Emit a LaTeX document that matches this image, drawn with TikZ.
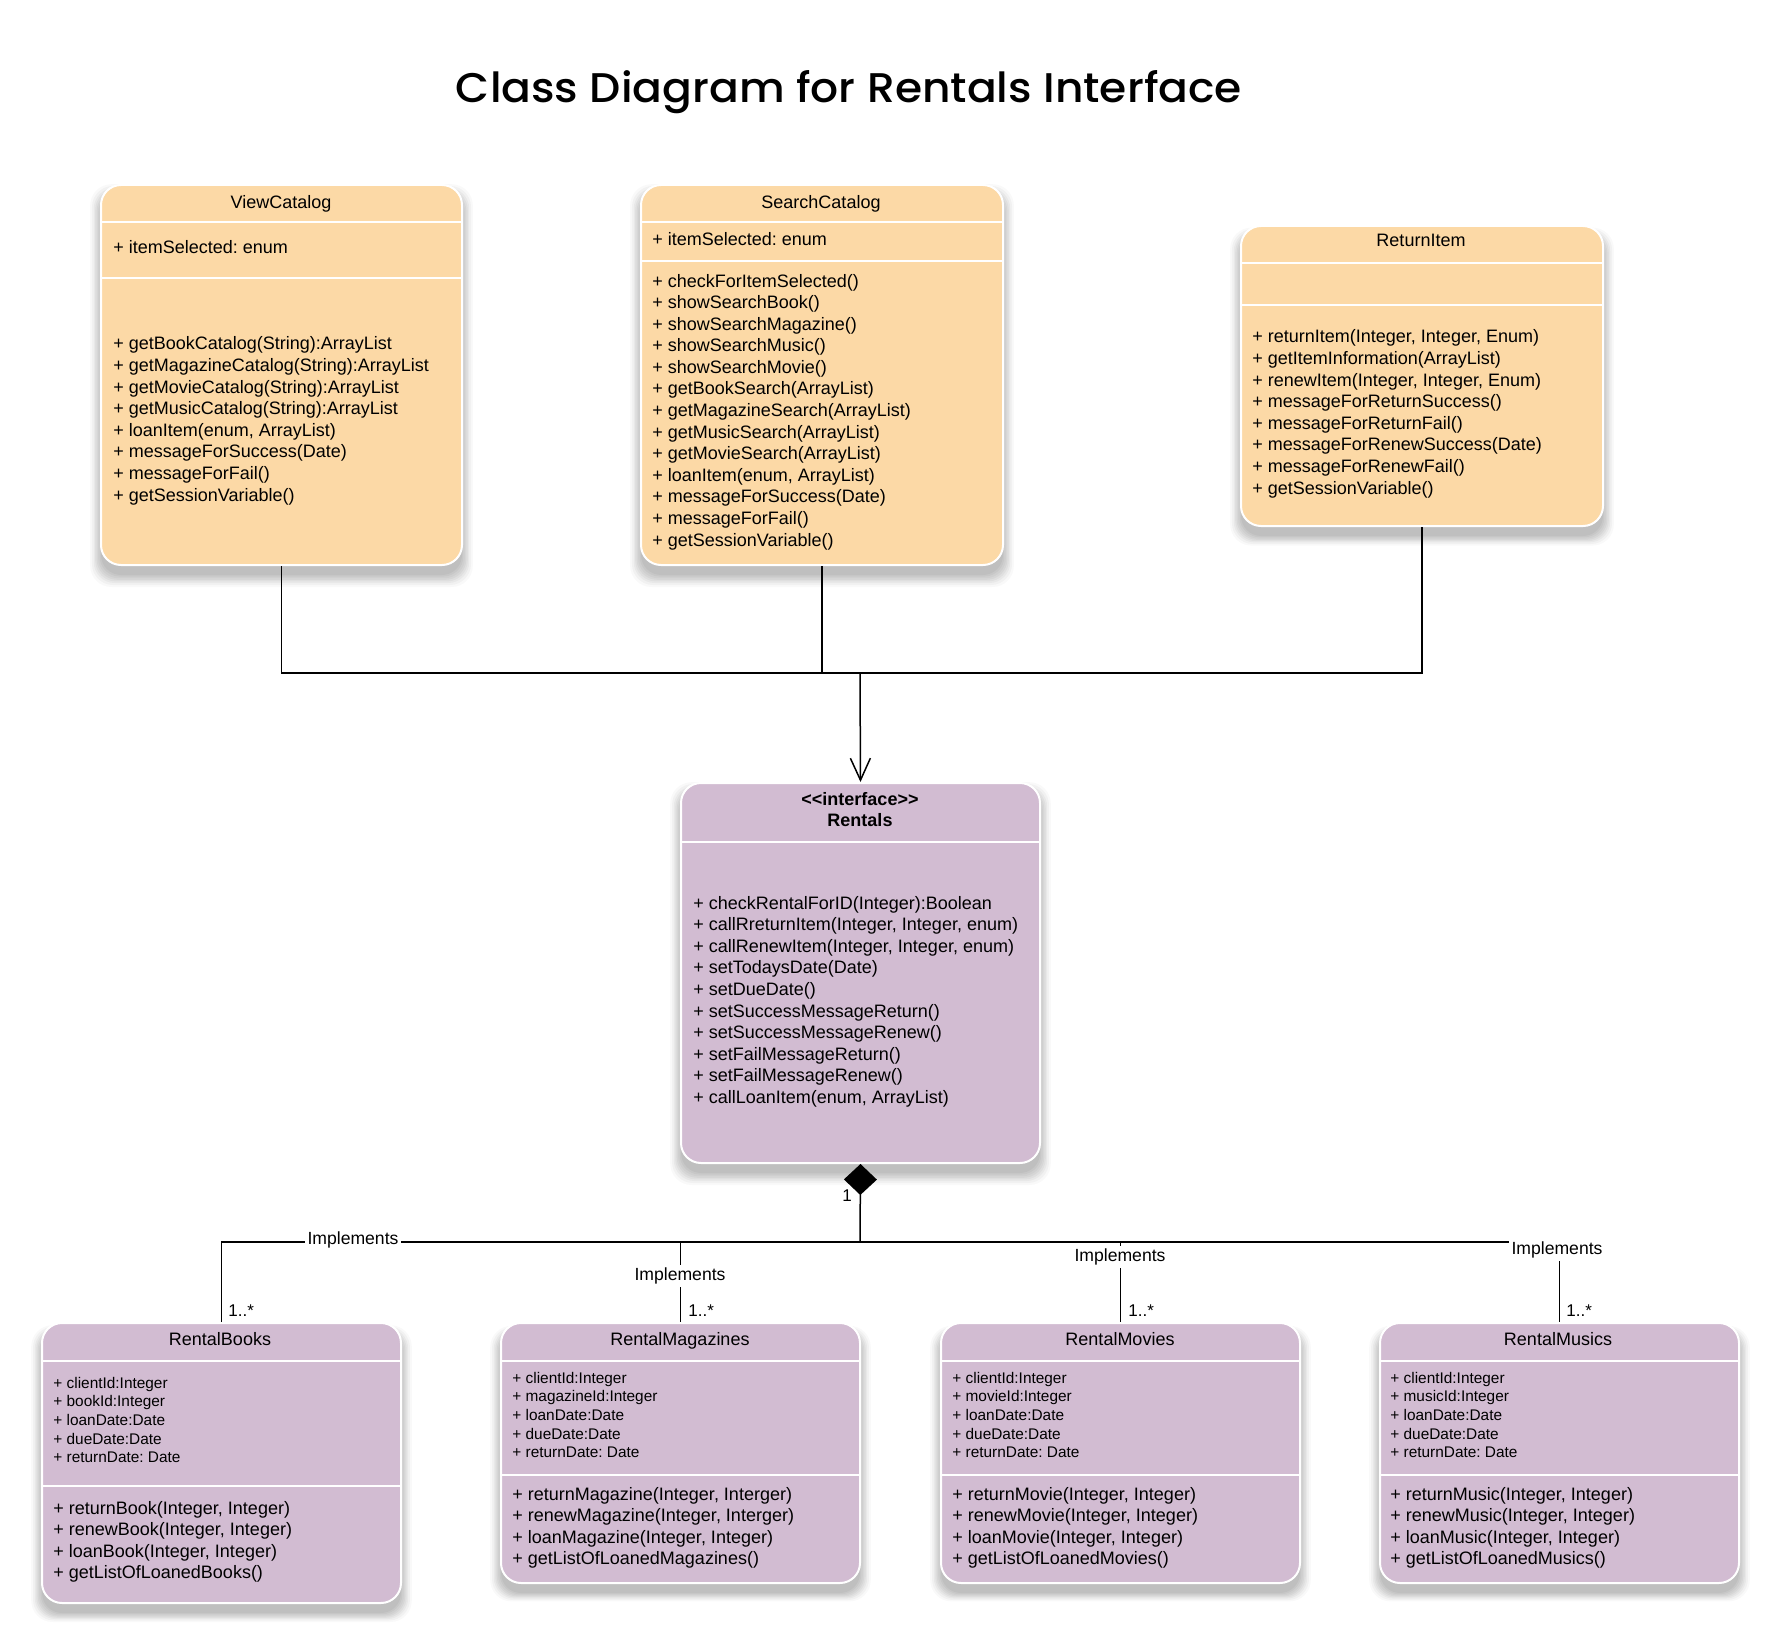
\documentclass[tikz,border=0pt]{standalone}
\usepackage{fontspec}
\setmainfont{Liberation Sans}
\newfontfamily\titlefont{Poppins Medium}
\usetikzlibrary{arrows.meta,shadows}
\definecolor{orangefill}{RGB}{252,217,166}
\definecolor{purplefill}{RGB}{210,188,210}
\newcommand{\mlines}[1]{\begin{tabular}[t]{@{}l@{}}#1\end{tabular}}
\frenchspacing
\begin{document}
\frenchspacing
\begin{tikzpicture}[x=0.5pt,y=-0.5pt,
  softshadow/.style={
    general shadow={fill=black, opacity=0.035, shadow yshift=-5pt, shadow scale=1.000},
    general shadow={fill=black, opacity=0.035, shadow yshift=-5pt, shadow scale=1.008},
    general shadow={fill=black, opacity=0.035, shadow yshift=-5pt, shadow scale=1.016},
    general shadow={fill=black, opacity=0.035, shadow yshift=-5pt, shadow scale=1.024},
    general shadow={fill=black, opacity=0.035, shadow yshift=-5pt, shadow scale=1.032},
    general shadow={fill=black, opacity=0.035, shadow yshift=-5pt, shadow scale=1.040},
    general shadow={fill=black, opacity=0.03, shadow yshift=-5pt, shadow scale=1.050},
    general shadow={fill=black, opacity=0.025, shadow yshift=-5pt, shadow scale=1.060}},
  cls/.style={draw=white, line width=1pt, rounded corners=10pt, anchor=north west, inner sep=0pt, softshadow},
  orangebox/.style={cls, fill=orangefill},
  purplebox/.style={cls, fill=purplefill},
  div/.style={draw=white, line width=1pt},
  hdr/.style={anchor=base, inner sep=0pt, font=\fontsize{9}{10.8}\selectfont},
  txt/.style={anchor=base west, inner sep=0pt, font=\fontsize{9}{10.8}\selectfont},
  smalltxt/.style={anchor=base west, inner sep=0pt, font=\fontsize{7.7}{9.35}\selectfont},
  conn/.style={draw=black, line width=0.75pt},
  lbl/.style={fill=white, inner sep=1.5pt, font=\fontsize{8.8}{10}\selectfont},
  mult/.style={anchor=base west, inner sep=0pt, font=\fontsize{8.5}{10}\selectfont}]
\useasboundingbox (0,0) rectangle (1769,1643);
\fill[white] (0,0) rectangle (1769,1643);

% title
\node (title) at (849,92) {\resizebox{393pt}{16pt}{\titlefont Class Diagram for Rentals Interface}};

% ---------- ViewCatalog ----------
\node[orangebox, minimum width=180.5pt, minimum height=190pt] (vc) at (100,184) {};
\draw[div] (vc.west |- 0,222) -- (vc.east |- 0,222);
\draw[div] (vc.west |- 0,278) -- (vc.east |- 0,278);
\node[hdr] (vcname) at (281,208) {ViewCatalog};
\node[txt] (vcattr) at (113,254) {+ itemSelected: enum};
\node[txt] (vcops) at (113,350) {\mlines{+ getBookCatalog(String):ArrayList\\
+ getMagazineCatalog(String):ArrayList\\
+ getMovieCatalog(String):ArrayList\\
+ getMusicCatalog(String):ArrayList\\
+ loanItem(enum, ArrayList)\\
+ messageForSuccess(Date)\\
+ messageForFail()\\
+ getSessionVariable()}};

% ---------- SearchCatalog ----------
\node[orangebox, minimum width=181pt, minimum height=190pt] (sc) at (640,184) {};
\draw[div] (sc.west |- 0,222) -- (sc.east |- 0,222);
\draw[div] (sc.west |- 0,261) -- (sc.east |- 0,261);
\node[hdr] (scname) at (821,208) {SearchCatalog};
\node[txt] (scattr) at (652,245) {+ itemSelected: enum};
\node[txt] (scops) at (652,287) {\mlines{+ checkForItemSelected()\\
+ showSearchBook()\\
+ showSearchMagazine()\\
+ showSearchMusic()\\
+ showSearchMovie()\\
+ getBookSearch(ArrayList)\\
+ getMagazineSearch(ArrayList)\\
+ getMusicSearch(ArrayList)\\
+ getMovieSearch(ArrayList)\\
+ loanItem(enum, ArrayList)\\
+ messageForSuccess(Date)\\
+ messageForFail()\\
+ getSessionVariable()}};

% ---------- ReturnItem ----------
\node[orangebox, minimum width=181pt, minimum height=150pt] (ri) at (1240,225) {};
\draw[div] (ri.west |- 0,263) -- (ri.east |- 0,263);
\draw[div] (ri.west |- 0,305) -- (ri.east |- 0,305);
\node[hdr] (riname) at (1421,247) {ReturnItem};
\node[txt] (riops) at (1252,343) {\mlines{+ returnItem(Integer, Integer, Enum)\\
+ getItemInformation(ArrayList)\\
+ renewItem(Integer, Integer, Enum)\\
+ messageForReturnSuccess()\\
+ messageForReturnFail()\\
+ messageForRenewSuccess(Date)\\
+ messageForRenewFail()\\
+ getSessionVariable()}};

% ---------- Rentals ----------
\node[purplebox, minimum width=179.5pt, minimum height=190pt] (rt) at (680,782) {};
\draw[div] (rt.west |- 0,842) -- (rt.east |- 0,842);
\node[hdr, font=\fontsize{9}{10.8}\selectfont\bfseries] (rtstereo) at (860,805) {<\kern0pt<interface>\kern0pt>};
\node[hdr, font=\fontsize{9}{10.8}\selectfont\bfseries] (rtname) at (860,826) {Rentals};
\node[txt] (rtops) at (693,909) {\mlines{+ checkRentalForID(Integer):Boolean\\
+ callRreturnItem(Integer, Integer, enum)\\
+ callRenewItem(Integer, Integer, enum)\\
+ setTodaysDate(Date)\\
+ setDueDate()\\
+ setSuccessMessageReturn()\\
+ setSuccessMessageRenew()\\
+ setFailMessageReturn()\\
+ setFailMessageRenew()\\
+ callLoanItem(enum, ArrayList)}};

% ---------- RentalBooks ----------
\node[purplebox, minimum width=179.5pt, minimum height=140pt] (rb) at (41,1322) {};
\draw[div] (rb.west |- 0,1361) -- (rb.east |- 0,1361);
\draw[div] (rb.west |- 0,1486) -- (rb.east |- 0,1486);
\node[hdr] (rbname) at (220,1345) {RentalBooks};
\node[smalltxt] (rbattr) at (53,1388) {\mlines{+ clientId:Integer\\
+ bookId:Integer\\
+ loanDate:Date\\
+ dueDate:Date\\
+ returnDate: Date}};
\node[txt] (rbops) at (53,1514) {\mlines{+ returnBook(Integer, Integer)\\
+ renewBook(Integer, Integer)\\
+ loanBook(Integer, Integer)\\
+ getListOfLoanedBooks()}};

% ---------- RentalMagazines ----------
\node[purplebox, minimum width=179.5pt, minimum height=130pt] (rm) at (500,1322) {};
\draw[div] (rm.west |- 0,1361) -- (rm.east |- 0,1361);
\draw[div] (rm.west |- 0,1475) -- (rm.east |- 0,1475);
\node[hdr] (rmname) at (680,1345) {RentalMagazines};
\node[smalltxt] (rmattr) at (512,1383) {\mlines{+ clientId:Integer\\
+ magazineId:Integer\\
+ loanDate:Date\\
+ dueDate:Date\\
+ returnDate: Date}};
\node[txt] (rmops) at (512,1500) {\mlines{+ returnMagazine(Integer, Interger)\\
+ renewMagazine(Integer, Interger)\\
+ loanMagazine(Integer, Integer)\\
+ getListOfLoanedMagazines()}};

% ---------- RentalMovies ----------
\node[purplebox, minimum width=179.5pt, minimum height=130pt] (rv) at (940,1322) {};
\draw[div] (rv.west |- 0,1361) -- (rv.east |- 0,1361);
\draw[div] (rv.west |- 0,1475) -- (rv.east |- 0,1475);
\node[hdr] (rvname) at (1120,1345) {RentalMovies};
\node[smalltxt] (rvattr) at (952,1383) {\mlines{+ clientId:Integer\\
+ movieId:Integer\\
+ loanDate:Date\\
+ dueDate:Date\\
+ returnDate: Date}};
\node[txt] (rvops) at (952,1500) {\mlines{+ returnMovie(Integer, Integer)\\
+ renewMovie(Integer, Integer)\\
+ loanMovie(Integer, Integer)\\
+ getListOfLoanedMovies()}};

% ---------- RentalMusics ----------
\node[purplebox, minimum width=179.5pt, minimum height=130pt] (rs) at (1379,1322) {};
\draw[div] (rs.west |- 0,1361) -- (rs.east |- 0,1361);
\draw[div] (rs.west |- 0,1475) -- (rs.east |- 0,1475);
\node[hdr] (rsname) at (1558,1345) {RentalMusics};
\node[smalltxt] (rsattr) at (1390,1383) {\mlines{+ clientId:Integer\\
+ musicId:Integer\\
+ loanDate:Date\\
+ dueDate:Date\\
+ returnDate: Date}};
\node[txt] (rsops) at (1390,1500) {\mlines{+ returnMusic(Integer, Integer)\\
+ renewMusic(Integer, Integer)\\
+ loanMusic(Integer, Integer)\\
+ getListOfLoanedMusics()}};

% ---------- connectors ----------
\coordinate (hubT) at (860,673);
\coordinate (hubB) at (860,1242);
\draw[conn] (vc.south) |- (hubT);
\draw[conn] (sc.south) -- (sc.south |- hubT);
\draw[conn] (ri.south) |- (hubT);
\draw[conn, -{Straight Barb[length=11pt, width=10pt]}] (hubT) -- (rt.north);

\draw[conn, {Diamond[length=15.5pt, width=16.5pt]}-] (rt.south) -- (hubB);
\draw[conn] (hubB) -| (rb.north);
\draw[conn] (hubB) -| (rm.north);
\draw[conn] (hubB) -| (rv.north);
\draw[conn] (hubB) -| (rs.north);

\node[font=\fontsize{8.5}{10}\selectfont, inner sep=0pt] (one) at (847,1196) {1};
\node[lbl] (implB) at (353,1240) {Implements};
\node[lbl] (implM) at (680,1276) {Implements};
\node[lbl] (implV) at (1120,1257) {Implements};
\node[lbl] (implS) at (1557,1250) {Implements};
\node[mult] (multB) at (228,1316) {1..*};
\node[mult] (multM) at (688,1316) {1..*};
\node[mult] (multV) at (1128,1316) {1..*};
\node[mult] (multS) at (1566,1316) {1..*};
\end{tikzpicture}
\end{document}
